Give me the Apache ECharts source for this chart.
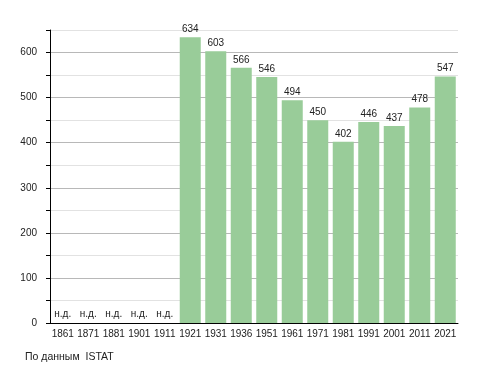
<!DOCTYPE html>
<html><head><meta charset="utf-8">
<script src="https://cdn.jsdelivr.net/npm/echarts@6/dist/echarts.min.js"></script>
<style>html,body{margin:0;padding:0;background:#fff}#c{width:488px;height:373px}</style>
</head><body><div id="c"></div>
<script>
const years = ['1861','1871','1881','1901','1911','1921','1931','1936','1951','1961','1971','1981','1991','2001','2011','2021'];
const population = [null,null,null,null,null,634,603,566,546,494,450,402,446,437,478,547];
const missingLabel = 'н.д.';
const sourceText = 'По данным  ISTAT';
const yTicks = [0,100,200,300,400,500,600];

const font = 'Liberation Sans, Arial, sans-serif';
const chart = echarts.init(document.getElementById('c'));
chart.setOption({
  animation: false,
  grid: {left: 50, right: 30, top: 30, bottom: 50},
  graphic: [{type: 'text', left: 25, top: 352, style: {text: sourceText, font: '10.5px ' + font, fill: '#222'}}],
  xAxis: {
    type: 'category', data: years,
    axisLine: {lineStyle: {color: '#000', width: 1}},
    axisTick: {show: false},
    axisLabel: {color: '#222', fontFamily: font, fontSize: 10, margin: 6, interval: 0}
  },
  yAxis: {
    type: 'value', min: 0, max: 650, interval: 50,
    axisLine: {show: true, lineStyle: {color: '#000', width: 1}},
    axisTick: {show: true, length: 4, lineStyle: {color: '#000'}},
    axisLabel: {color: '#222', fontFamily: font, fontSize: 10, margin: 13,
      formatter: v => yTicks.indexOf(v) >= 0 ? String(v) : ''},
    splitLine: {show: true, lineStyle: {color: ['#b8b8b8', '#e2e2e2'], width: 1}}
  },
  series: [
    {
      type: 'bar', data: population, barWidth: 21,
      itemStyle: {color: '#99cc99'},
      label: {show: true, position: 'top', distance: 3, color: '#222', fontFamily: font, fontSize: 10}
    },
    {
      type: 'bar', barGap: '-100%', barWidth: 21,
      data: population.map(v => v === null ? 0 : null),
      itemStyle: {color: 'transparent'},
      label: {show: true, position: 'top', distance: 4, color: '#222', fontFamily: font, fontSize: 10,
        formatter: () => missingLabel}
    }
  ]
});
</script></body></html>
